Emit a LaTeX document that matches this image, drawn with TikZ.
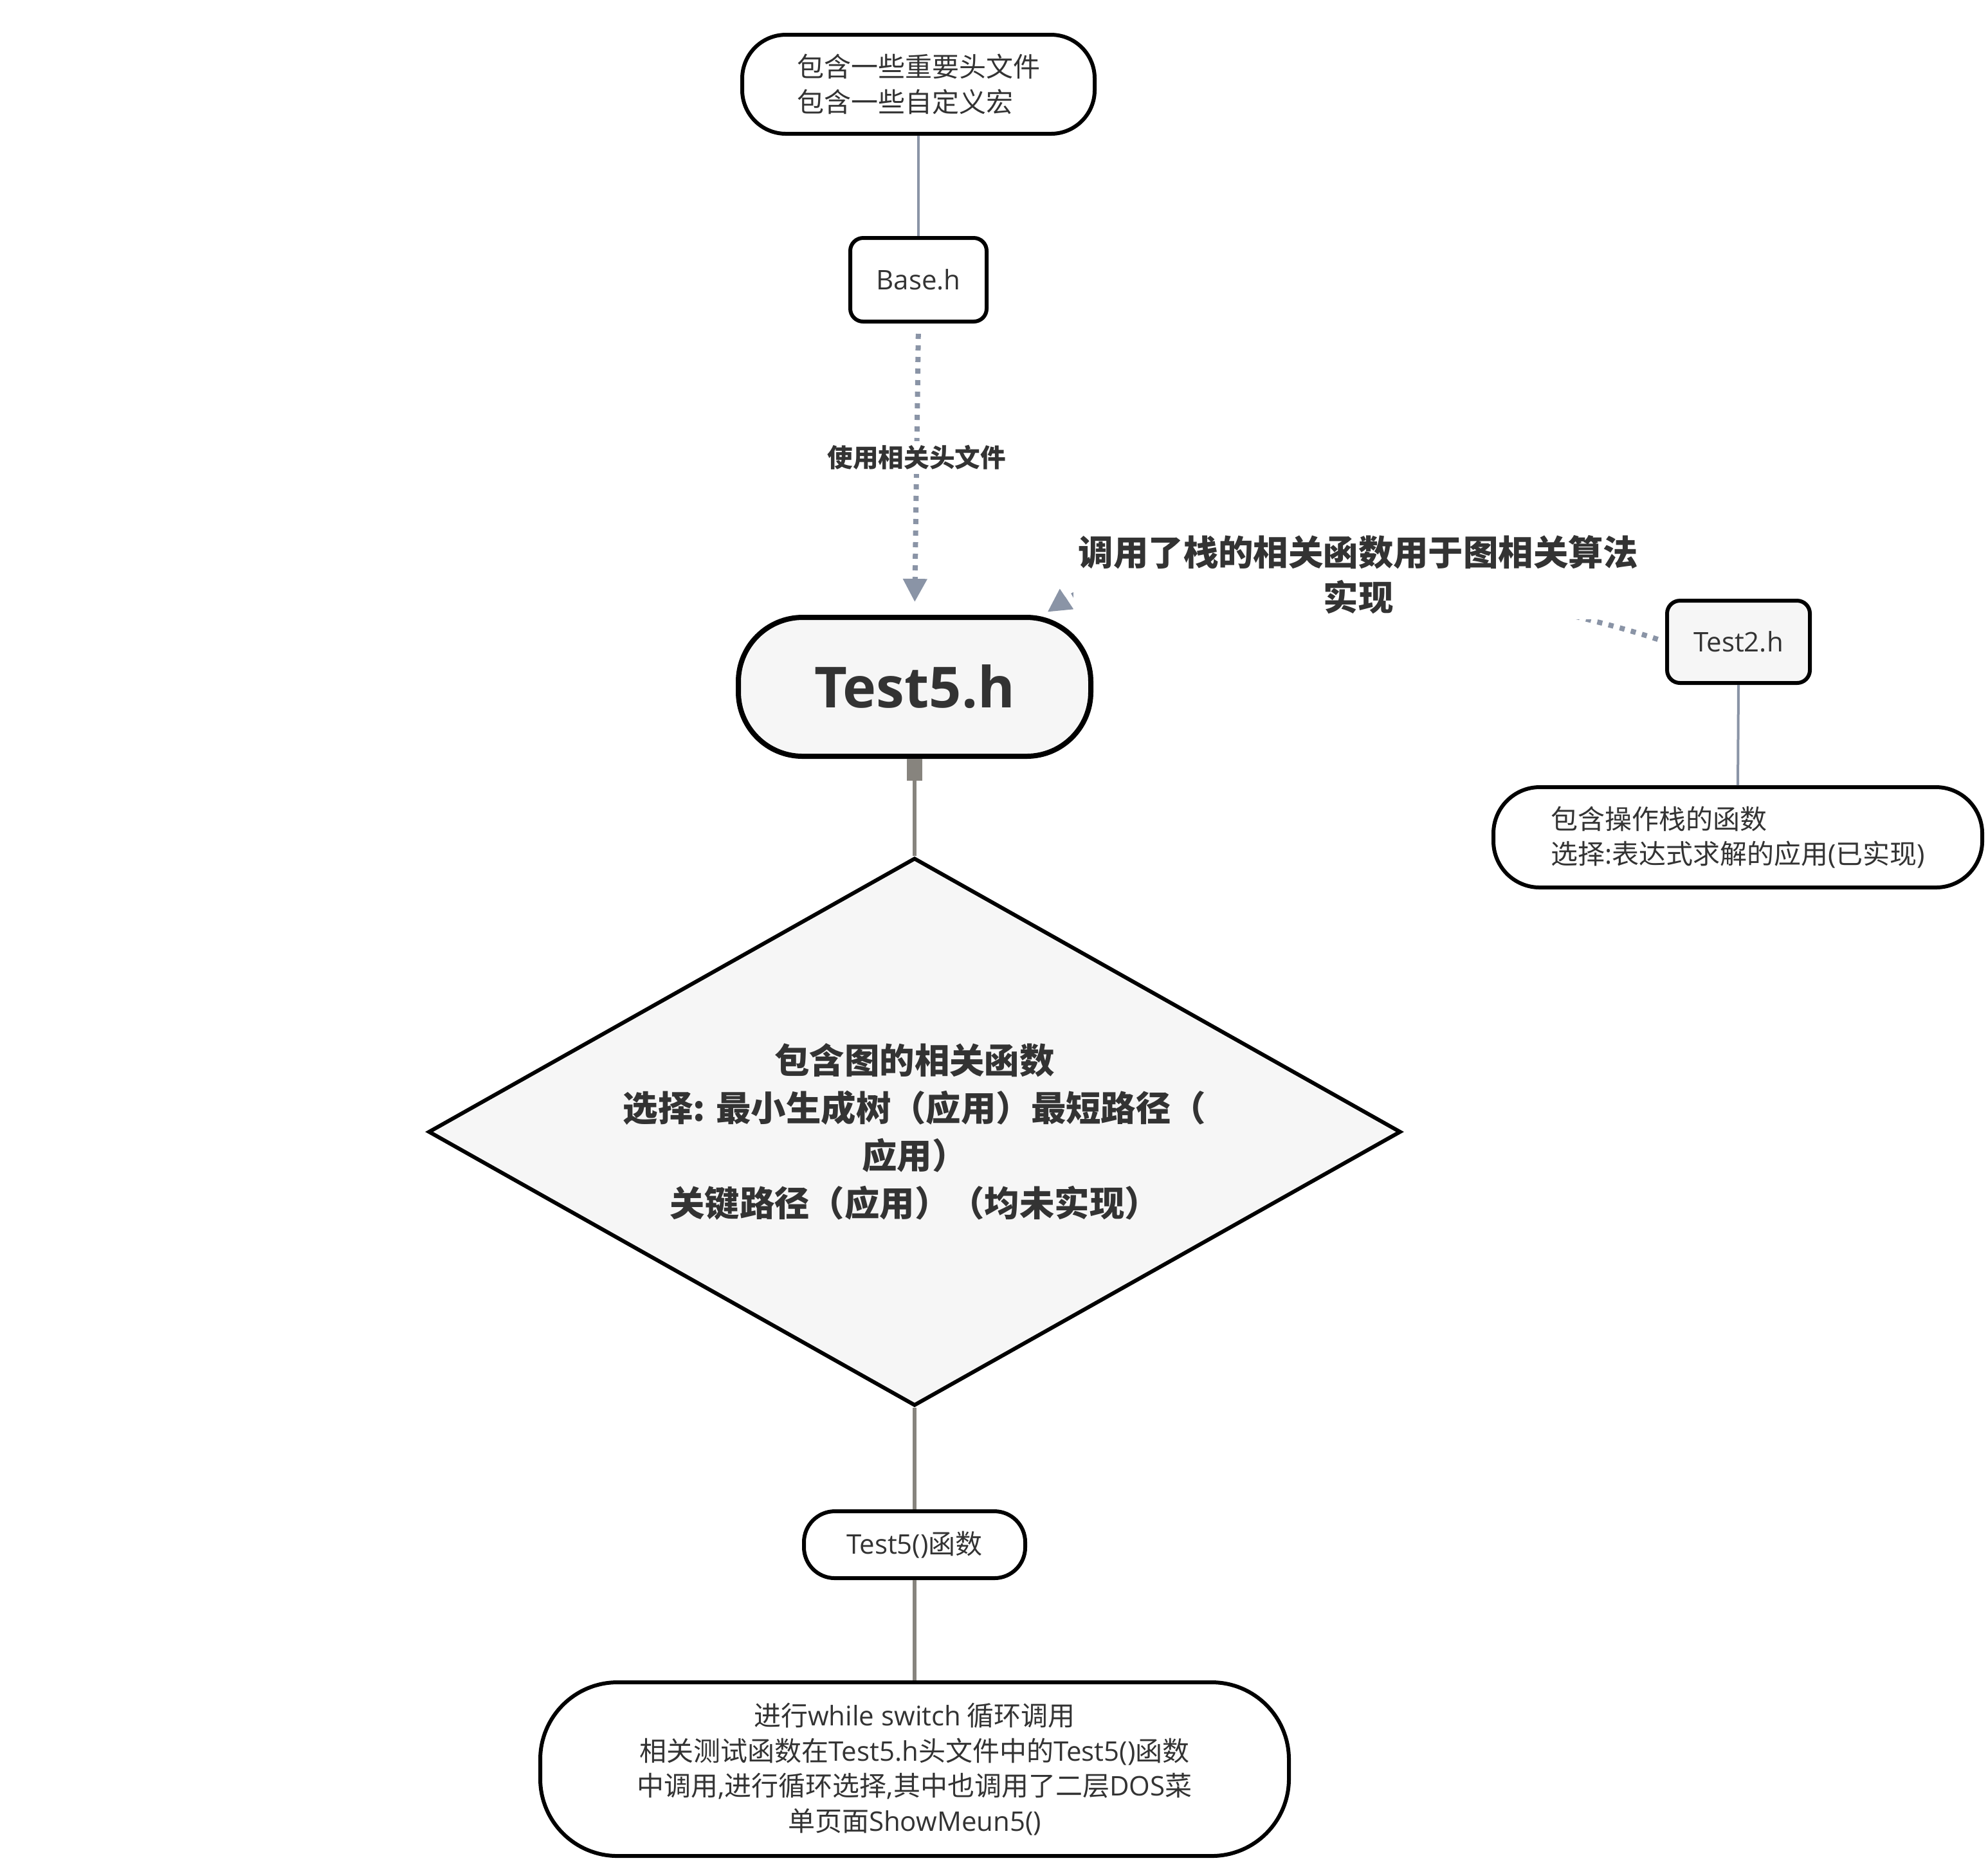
\documentclass[tikz,border=0pt]{standalone}
\usepackage{fontspec}
\setmainfont{Open Sans}
\newfontfamily\cjk{Noto Sans CJK SC}
\newfontfamily\enfont{Open Sans}
\newcommand\en[1]{{\enfont #1}}
\usetikzlibrary{arrows.meta,shapes.geometric,calc}
\definecolor{txt}{HTML}{333333}
\definecolor{bluegray}{HTML}{8A94A6}
\definecolor{lgray}{HTML}{87847E}
\definecolor{fillg}{HTML}{F6F6F6}
\begin{document}
\begin{tikzpicture}[x=0.5pt,y=-0.5pt,
  box/.style={draw=black, line width=1.5pt, text=txt, inner sep=0pt, align=center},
  bluel/.style={draw=bluegray, line width=1pt},
  dotl/.style={draw=bluegray, line width=2pt, dash pattern=on 2pt off 2.5pt, -{Triangle[width=9pt,length=9pt]}},
  grayl/.style={draw=lgray, line width=1.5pt},
  normtxt/.style={font={\cjk\fontsize{10.5}{13.6}\selectfont}},
  entxt/.style={font={\enfont\fontsize{10.5}{13.6}\selectfont}}
]
\useasboundingbox (0,0) rectangle (1545.5,1448);
% nodes
\node[box, normtxt, align=left, minimum width=137pt, minimum height=38.5pt, rounded corners=17pt] (top) at (714,65.5) {包含一些重要头文件\\包含一些自定义宏};
\node[box, entxt, minimum width=53pt, minimum height=32.5pt, rounded corners=5pt] (base) at (714,217.5) {Base.h};
\node[box, line width=2pt, fill=fillg, minimum width=137pt, minimum height=54pt, rounded corners=25pt, font={\enfont\bfseries\fontsize{22}{26}\selectfont}] (test5) at (711,534) {Test5.h};
\node[diamond, draw=black, line width=1.5pt, fill=fillg, minimum width=378pt, minimum height=213pt, inner sep=0pt, aspect=1.775, text=txt, align=center, font={\cjk\bfseries\fontsize{13.6}{18.5}\selectfont}] (dia) at (711,880) {包含图的相关函数\\选择: 最小生成树（应用）最短路径（\\应用）\\关键路径（应用）（均未实现）};
\node[box, normtxt, minimum width=86pt, minimum height=26pt, rounded corners=12pt] (f5) at (711,1201) {\en{Test5()}函数};
\node[box, normtxt, minimum width=291pt, minimum height=67.5pt, rounded corners=30pt] (bot) at (711,1375.5) {进行\en{while switch} 循环调用\\相关测试函数在\en{Test5.h}头文件中的\en{Test5()}函数\\中调用\en{,}进行循环选择\en{,}其中也调用了二层\en{DOS}菜\\单页面\en{ShowMeun5()}};
\node[box, entxt, fill=fillg, minimum width=55.5pt, minimum height=32pt, rounded corners=5pt] (test2) at (1351.5,499) {Test2.h};
\node[box, normtxt, align=left, minimum width=190pt, minimum height=39pt, rounded corners=18pt] (t2b) at (1351,651) {包含操作栈的函数\\选择\en{:}表达式求解的应用\en{(}已实现\en{)}};
% connectors
\draw[bluel] (top.south) -- (base.north);
\draw[bluel] (test2.south) -- (t2b.north);
\draw[dotl, shorten <=4pt, shorten >=5pt] (base.south) -- node[pos=0.46, fill=white, inner sep=1.5pt, text=txt, font={\cjk\bfseries\fontsize{9.9}{12}\selectfont}] (lab1) {使用相关头文件} (test5.north);
\draw[dotl, shorten <=3pt, shorten >=2pt] (test2.west) .. controls +(-120,-40) and +(89,-60) .. ($(test5.north)+(100,0)$);
\node[fill=white, inner sep=2pt, text=txt, align=center, font={\cjk\bfseries\fontsize{13.6}{17.5}\selectfont}] (lab2) at (1056,447) {调用了栈的相关函数用于图相关算法\\实现};
\draw[grayl, {Rectangle[length=8.5pt,width=6pt]}-] (test5.south) -- (dia.north);
\draw[grayl] (dia.south) to[out=-90,in=90] (f5.north);
\draw[grayl] (f5.south) -- (bot.north);
\end{tikzpicture}
\end{document}
